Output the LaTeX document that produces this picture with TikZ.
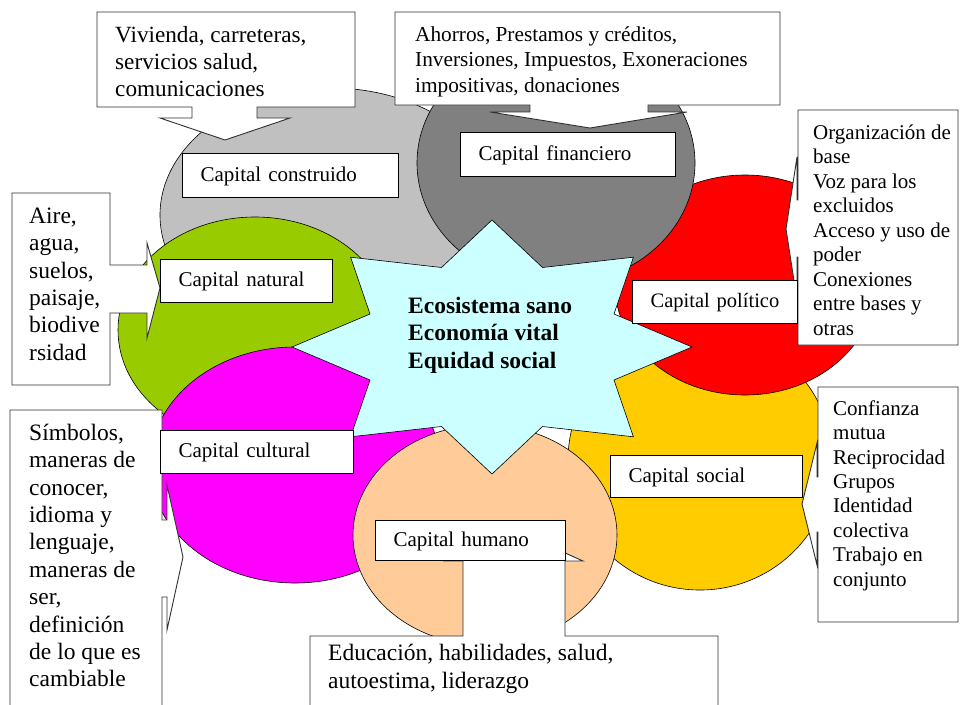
\documentclass[tikz,border=0pt]{standalone}
\usepackage{fontspec}
\setmainfont{Liberation Serif}
\definecolor{cConstr}{HTML}{C0C0C0}
\definecolor{cFin}{HTML}{808080}
\definecolor{cPol}{HTML}{FF0000}
\definecolor{cSoc}{HTML}{FFCC00}
\definecolor{cHum}{HTML}{FFCC99}
\definecolor{cCul}{HTML}{FF00FF}
\definecolor{cNat}{HTML}{99CC00}
\definecolor{cStar}{HTML}{CCFFFF}
\definecolor{cLine}{HTML}{303030}
\begin{document}
\begin{tikzpicture}[x=1pt,y=-1pt,
  circ/.style={draw=black,line width=0.6pt},
  callout/.style={draw=cLine,line width=0.9pt,fill=white,line join=miter},
  ctext/.style={anchor=north west,inner sep=0pt,align=left},
  capbox/.style={draw=black,line width=1.2pt,fill=white,anchor=north west,
    inner xsep=18pt,inner ysep=0pt,align=left,text height=15pt,text depth=4pt,
    font=\fontsize{21pt}{25pt}\selectfont},
  starshape/.style={draw=black,line width=0.6pt,fill=cStar}
]
\useasboundingbox[fill=white] (0,0) rectangle (960,704);
% capital discs
\draw[circ,fill=cConstr] (331,215) ellipse [x radius=171pt, y radius=127pt];
\draw[circ,fill=cSoc] (700,460) ellipse [x radius=132pt, y radius=130pt];
\draw[circ,fill=cPol] (745,285) ellipse [x radius=130pt, y radius=110pt];
\draw[circ,fill=cFin] (556,163) ellipse [x radius=139pt, y radius=122pt];
\draw[circ,fill=cNat] (255,330) ellipse [x radius=137pt, y radius=113pt];
\draw[circ,fill=cCul] (295,465) ellipse [x radius=145pt, y radius=118pt];
\draw[circ,fill=cHum] (485,535) ellipse [x radius=132pt, y radius=110pt];
% central star
\draw[starshape] (692,347) -- (614,314) -- (633.4,257.2) -- (542.5,267.5) -- (492,220)
  -- (441.5,267.5) -- (350.6,257.2) -- (370,314) -- (292,347) -- (370,380)
  -- (350.6,436.8) -- (441.5,426.5) -- (492,474) -- (542.5,426.5) -- (633.4,436.8)
  -- (614,380) -- cycle;
\node[ctext,font=\bfseries\fontsize{23.5pt}{27.5pt}\selectfont] (goal) at (408,294)
  {\strut Ecosistema sano\\Economía vital\\Equidad social};
% callouts
\draw[callout] (97,12) -- (355,12) -- (355,107) -- (257,107) -- (257,118) -- (290,118)
  -- (225,140) -- (160,118) -- (192,118) -- (192,107) -- (97,107) -- cycle;
\draw[callout] (395,12) -- (780,12) -- (780,105) -- (648,105) -- (648,112) -- (687,112)
  -- (590,128) -- (490,112) -- (530,112) -- (530,105) -- (395,105) -- cycle;
\draw[callout] (12,193) -- (110,193) -- (110,265) -- (147,265) -- (147,243) -- (160,288)
  -- (147,338) -- (147,313) -- (110,313) -- (110,385) -- (12,385) -- cycle;
\draw[callout] (798,345) -- (798,257) -- (797,257) -- (797,300) -- (786,229) -- (797,157)
  -- (797,200) -- (798,200) -- (798,110) -- (958,110) -- (958,345) -- cycle;
\draw[callout] (818,622) -- (818,532) -- (817,532) -- (817,565) -- (802,504) -- (817,443)
  -- (817,477) -- (818,477) -- (818,387) -- (958,387) -- (958,622) -- cycle;
\draw[callout] (10,410) -- (162,410) -- (162,520) -- (167,520) -- (167,485) -- (183,557)
  -- (167,630) -- (167,597) -- (162,597) -- (162,720) -- (10,720) -- cycle;
\draw[callout] (310,720) -- (310,636) -- (463,636) -- (463,561) -- (445,561) -- (514,530)
  -- (583,561) -- (565,561) -- (565,636) -- (718,636) -- (718,720) -- cycle;
% callout texts
\node[ctext,font=\fontsize{23.2pt}{27pt}\selectfont] (tconstr) at (115,23)
  {\strut Vivienda, carreteras,\\servicios salud,\\comunicaciones};
\node[ctext,font=\fontsize{21.3pt}{25.5pt}\selectfont] (tfin) at (415,23)
  {\strut Ahorros, Prestamos y créditos,\\Inversiones, Impuestos, Exoneraciones\\impositivas, donaciones};
\node[ctext,font=\fontsize{23.5pt}{27.4pt}\selectfont] (tnat) at (29,204)
  {\strut Aire,\\agua,\\suelos,\\paisaje,\\biodive\\rsidad};
\node[ctext,font=\fontsize{21pt}{24.5pt}\selectfont] (tpol) at (813,122)
  {\strut Organización de\\base\\Voz para los\\excluidos\\Acceso y uso de\\poder\\Conexiones\\entre bases y\\otras};
\node[ctext,font=\fontsize{21pt}{24.4pt}\selectfont] (tsoc) at (833,398)
  {\strut Confianza\\mutua\\Reciprocidad\\Grupos\\Identidad\\colectiva\\Trabajo en\\conjunto};
\node[ctext,font=\fontsize{23.5pt}{27.4pt}\selectfont] (tcul) at (29,421)
  {\strut Símbolos,\\maneras de\\conocer,\\idioma y\\lenguaje,\\maneras de\\ser,\\definición\\de lo que es\\cambiable};
\node[ctext,font=\fontsize{23.5pt}{28pt}\selectfont] (thum) at (328,640.4)
  {\strut Educación, habilidades, salud,\\autoestima, liderazgo};
% capital labels
\node[capbox,minimum width=216pt,minimum height=44pt,text width=180pt] (lconstr) at (182,153) {\mbox{Capital construido}};
\node[capbox,minimum width=215pt,minimum height=44pt,text width=179pt] (lfin) at (460,132) {\mbox{Capital financiero}};
\node[capbox,minimum width=165pt,minimum height=43pt,text width=129pt,font=\fontsize{20.5pt}{25pt}\selectfont] (lpol) at (632,280) {\mbox{Capital político}};
\node[capbox,minimum width=172pt,minimum height=43pt,text width=136pt] (lnat) at (160,259) {\mbox{Capital natural}};
\node[capbox,minimum width=193pt,minimum height=43pt,text width=157pt] (lcul) at (160,430) {\mbox{Capital cultural}};
\node[capbox,minimum width=190pt,minimum height=40pt,text width=154pt] (lhum) at (375,520) {\mbox{Capital humano}};
\node[capbox,minimum width=192pt,minimum height=42pt,text width=156pt] (lsoc) at (610,455) {\mbox{Capital social}};
\end{tikzpicture}
\end{document}
